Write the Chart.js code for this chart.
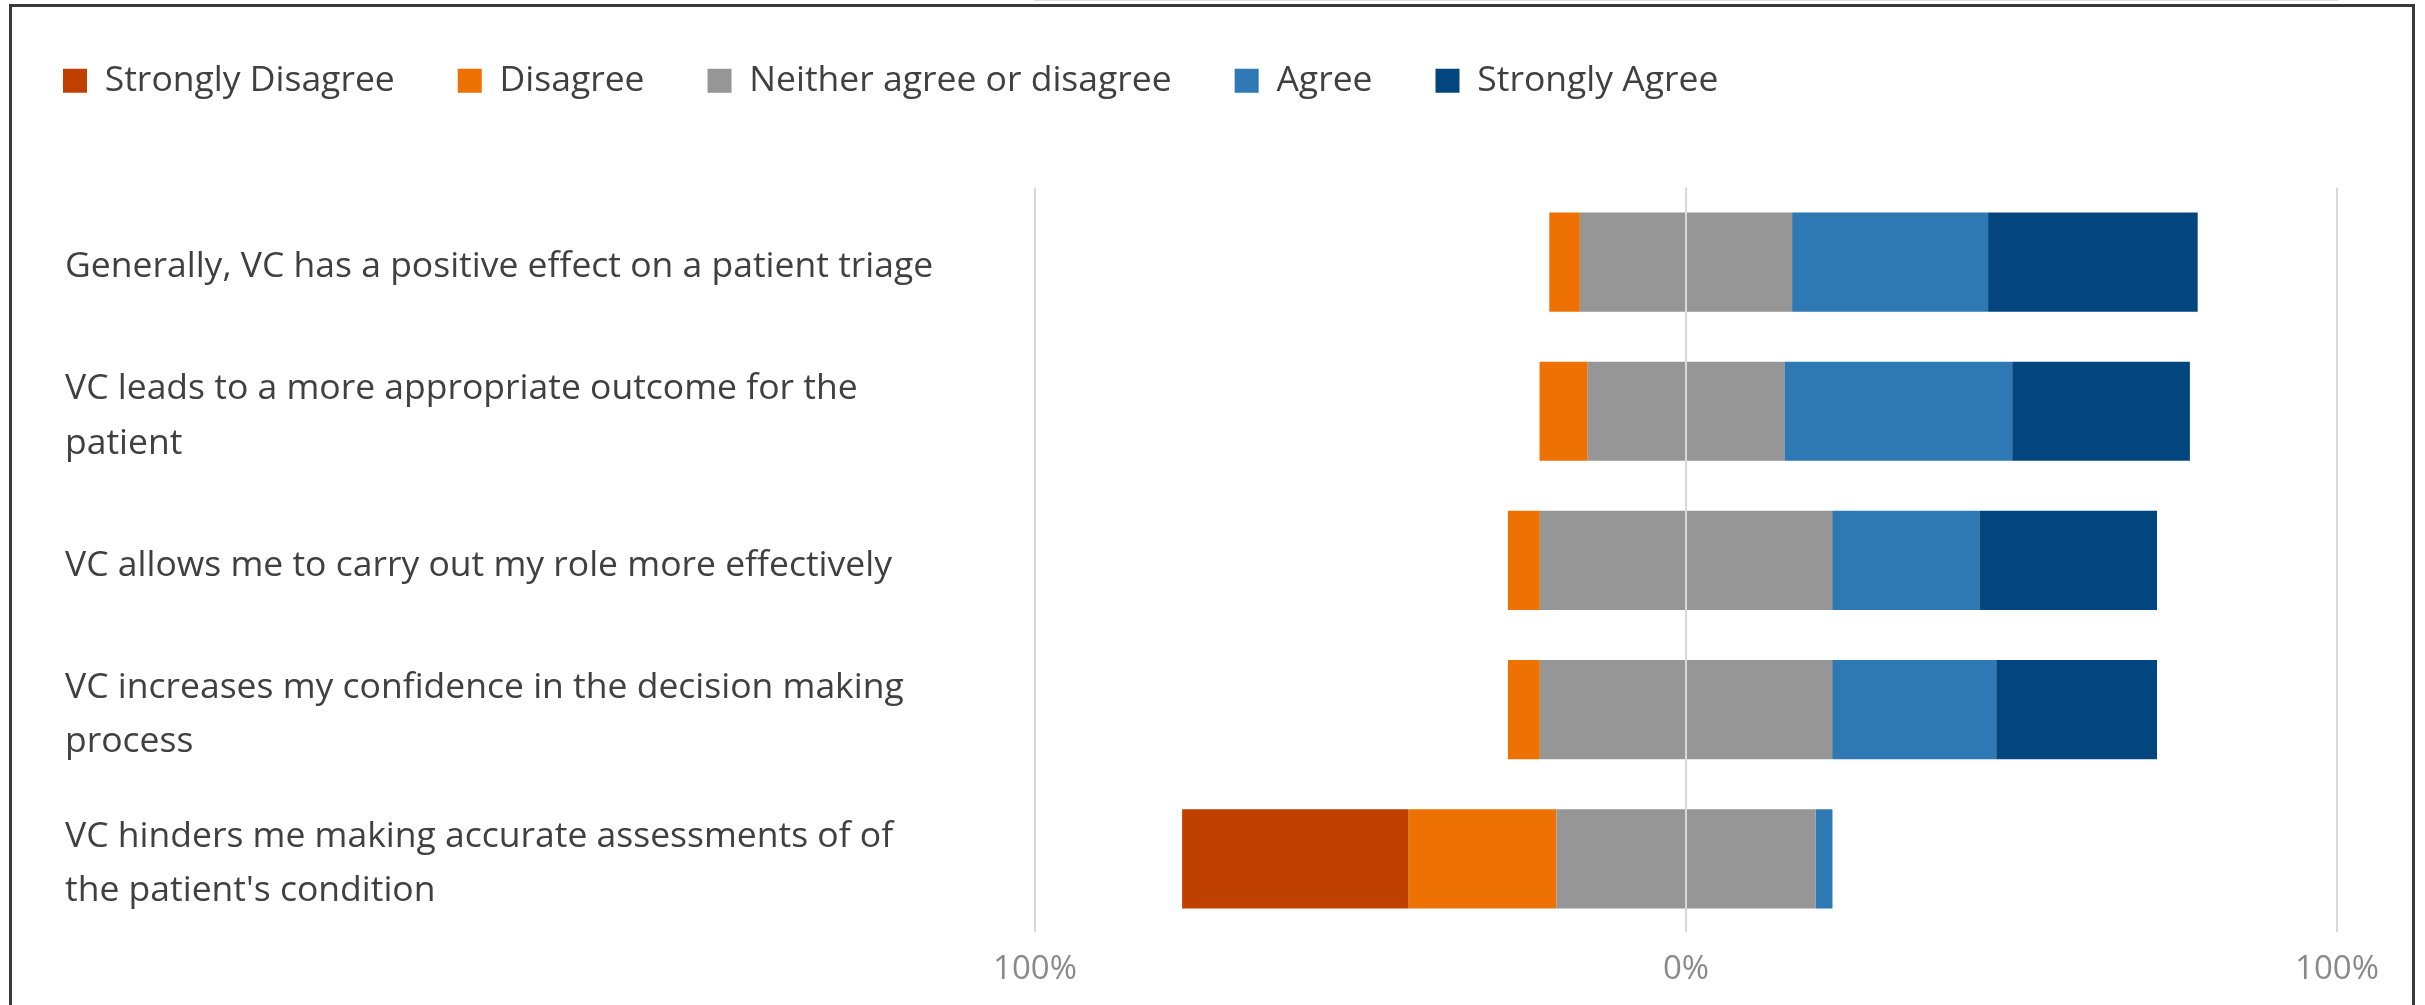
<!DOCTYPE html>
<html lang="en">
<head>
  <meta charset="UTF-8">
  <title>VC survey - diverging stacked bars</title>
  <script src="https://cdn.jsdelivr.net/npm/chart.js"></script>
  <style>
    body { margin: 0; background: #fff; }
    #wrap { position: relative; width: 2425px; height: 1005px; overflow: hidden; }
    #frame {
      position: absolute; left: 9px; top: 4px; width: 2400px; height: 1100px;
      border: 3px solid #3a3a3a; border-bottom: none; pointer-events: none;
    }
  </style>
</head>
<body>
  <div id="wrap">
    <canvas id="chart" width="2425" height="1005"></canvas>
    <div id="frame"></div>
  </div>
  <script>
    // statements (tick labels on the category axis)
    const categories = [
      'Generally, VC has a positive effect on a patient triage',
      ['VC leads to a more appropriate outcome for the', 'patient'],
      'VC allows me to carry out my role more effectively',
      ['VC increases my confidence in the decision making', 'process'],
      ['VC hinders me making accurate assessments of of', "the patient's condition"]
    ];

    // share of respondents, %
    const stronglyDisagree = [0, 0, 0, 0, 34.8];
    const disagree         = [4.7, 7.4, 4.9, 4.9, 22.7];
    const neutral          = [32.6, 30.2, 44.9, 44.9, 39.8];
    const agree            = [30.1, 35.0, 22.6, 25.2, 2.6];
    const stronglyAgree    = [32.2, 27.3, 27.3, 24.7, 0];

    const xTicks = [-100, 0, 100];

    const colors = {
      sd: '#C04000', d: '#EE7203', n: '#969696', a: '#2E78B4', sa: '#03457E'
    };

    const neg = arr => arr.map(v => -v);
    const half = arr => arr.map(v => v / 2);

    // stacking order: for negatives the first dataset sits next to 0
    const datasets = [
      { label: 'Neither agree or disagree', data: neg(half(neutral)), backgroundColor: colors.n, legendOrder: 2 },
      { label: 'Disagree', data: neg(disagree), backgroundColor: colors.d, legendOrder: 1 },
      { label: 'Strongly Disagree', data: neg(stronglyDisagree), backgroundColor: colors.sd, legendOrder: 0 },
      { label: 'Neither agree or disagree', data: half(neutral), backgroundColor: colors.n, legendOrder: -1 },
      { label: 'Agree', data: agree, backgroundColor: colors.a, legendOrder: 3 },
      { label: 'Strongly Agree', data: stronglyAgree, backgroundColor: colors.sa, legendOrder: 4 }
    ].map(ds => Object.assign(ds, {
      xAxisID: 'x', yAxisID: 'y', borderWidth: 0,
      barPercentage: 0.665, categoryPercentage: 1
    }));

    const font = 'Open Sans';

    new Chart(document.getElementById('chart'), {
      type: 'bar',
      data: { labels: categories, datasets },
      options: {
        indexAxis: 'y',
        responsive: false,
        animation: false,
        devicePixelRatio: 1,
        layout: { padding: { left: 0, right: 88, top: 0, bottom: 0 } },
        plugins: {
          tooltip: { enabled: false },
          legend: {
            position: 'top',
            align: 'start',
            labels: {
              boxWidth: 24,
              boxHeight: 24,
              padding: 63,
              color: '#404040',
              font: { family: font, size: 35.5 },
              filter: (item, data) => data.datasets[item.datasetIndex].legendOrder >= 0,
              sort: (a, b, data) => data.datasets[a.datasetIndex].legendOrder - data.datasets[b.datasetIndex].legendOrder
            }
          }
        },
        scales: {
          x: {
            type: 'linear',
            stacked: true,
            min: -100,
            max: 100,
            afterBuildTicks: s => { s.ticks = xTicks.map(v => ({ value: v })); },
            grid: { color: '#d9d9d9', lineWidth: 2, drawTicks: false, z: 1 },
            border: { display: true, color: '#dedede', width: 2 },
            ticks: {
              padding: 16,
              color: '#8a8a8a',
              font: { family: font, size: 33 },
              callback: v => Math.abs(v) + '%'
            }
          },
          y: {
            type: 'category',
            stacked: true,
            grid: { display: false },
            border: { display: false },
            ticks: {
              crossAlign: 'far',
              labelOffset: 5,
              color: '#404040',
              font: { family: font, size: 35.5, lineHeight: 1.53 }
            },
            afterFit: s => { s.width = 970; }
          },
          // spacers so the labels and legend start where the original has them
          padLeft: {
            type: 'linear', axis: 'y', position: 'left', weight: 1,
            grid: { display: false }, border: { display: false }, ticks: { display: false },
            afterFit: s => { s.width = 65; }
          },
          padTop: {
            type: 'linear', axis: 'x', position: 'top',
            grid: { display: false }, border: { display: false }, ticks: { display: false },
            afterFit: s => { s.height = 79; }
          }
        }
      }
    });
  </script>
</body>
</html>
